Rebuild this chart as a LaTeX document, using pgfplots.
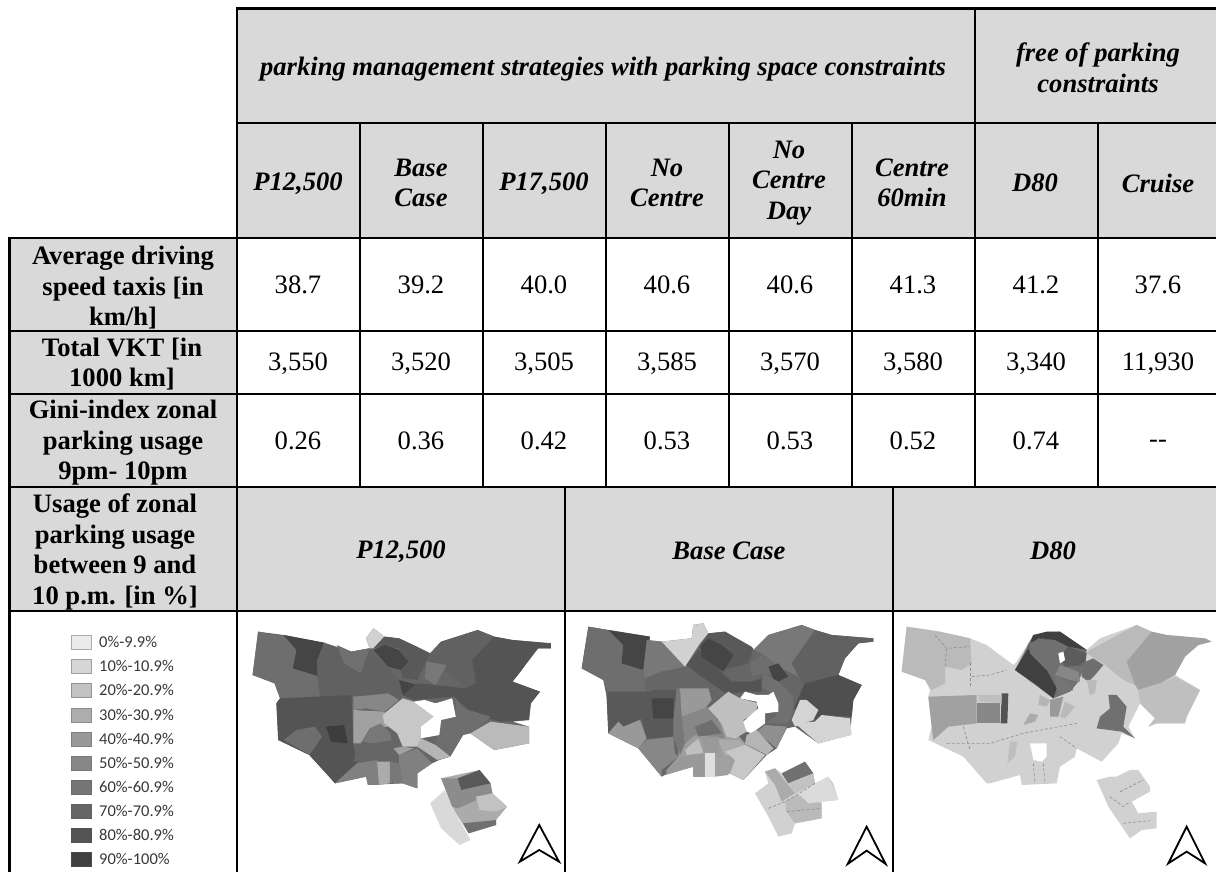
\documentclass[border=0pt]{standalone}
\usepackage{pgfplots}
\pgfplotsset{compat=1.18}
\usepackage{fontspec}
\setmainfont{Liberation Serif}
\newfontfamily\legf{Carlito}
\newcommand\Z[2]{\addplot[fill=black!#1,draw=none,forget plot] coordinates {#2} --cycle;}
\newcommand\Ln[1]{\addplot[black!45,line width=0.6pt,dash pattern=on 3pt off 2pt,forget plot] coordinates {#1};}
\newcommand\R[1]{\addplot[black,line width=2.1pt,forget plot,line cap=rect] coordinates {#1};}
\newcommand\Ar[1]{\addplot[black,line width=1.8pt,fill=white,forget plot,line join=miter] coordinates {#1} --cycle;}
\newcommand\LB[3]{\addplot[fill=black!#2,draw=black!#3,line width=1pt,forget plot] coordinates {(71,#1-7) (91,#1-7) (91,#1+7) (71,#1+7)} --cycle;}
\newcommand\T[3]{\node[align=center,inner sep=0pt,font=\fontsize{26.6}{30.5}\selectfont] at (axis cs:#1,#2) {#3};}
\newcommand\B[3]{\node[align=center,inner sep=0pt,font=\fontsize{26.6}{30.5}\selectfont\bfseries] at (axis cs:#1,#2) {#3};}
\newcommand\I[3]{\node[align=center,inner sep=0pt,font=\fontsize{26.6}{30.5}\selectfont\bfseries\itshape] at (axis cs:#1,#2) {#3};}
\newcommand\LT[2]{\node[anchor=west,inner sep=0pt,text=black!78,font=\legf\fontsize{16.5}{18}\selectfont] at (axis cs:99,#1) {#2};}
\pgfplotsset{mapax/.style={hide axis,scale only axis,y dir=reverse,anchor=north west,no markers,clip=false}}
\begin{document}
\begin{tikzpicture}[x=1pt,y=1pt]
\path[use as bounding box] (0,0) rectangle (1216,872);
% ---- map 1
\begin{axis}[mapax,at={(0pt,252pt)},width=570pt,height=252pt,xmin=0,xmax=1557,ymin=0,ymax=756]
\Z{60}{(705,35) (775,45) (885,68) (890,75) (960,95) (1010,85) (1000,55) (1020,25) (1050,50) (1090,55) (1135,78) (1175,100) (1205,65) (1305,30) (1350,50) (1400,60) (1505,70) (1505,85) (1470,85) (1445,110) (1425,150) (1400,185) (1475,215) (1450,250) (1445,300) (1400,305) (1445,320) (1445,370) (1350,390) (1285,340) (1265,345) (1230,410) (1200,420) (1180,430) (1140,460) (1140,505) (1100,490) (1005,495) (1000,470) (915,490) (900,470) (845,405) (760,360) (755,250) (765,235) (750,190) (690,165)}
\Z{57}{(705,35) (775,50) (810,90) (800,145) (865,165) (875,235) (765,235) (750,190) (690,165)}
\Z{73}{(775,45) (885,68) (865,125) (868,168) (800,145) (810,90)}
\Z{62}{(885,68) (960,95) (1010,85) (1020,100) (1090,180) (1100,240) (950,225) (875,235) (868,168) (865,125)}
\Z{56}{(920,75) (960,95) (1010,85) (985,160) (940,130)}
\Z{18}{(1000,55) (1020,25) (1050,50) (1020,85) (1010,85)}
\Z{65}{(1050,50) (1090,55) (1175,100) (1140,180) (1100,175) (1095,150) (1115,125) (1090,85) (1045,75) (1020,85)}
\Z{73}{(1020,90) (1050,75) (1090,90) (1115,125) (1095,150) (1060,140)}
\Z{73}{(1090,180) (1140,195) (1120,230) (1100,225)}
\Z{62}{(1175,100) (1205,65) (1305,30) (1350,50) (1290,120) (1300,190) (1270,205) (1215,150) (1165,125)}
\Z{53}{(1165,125) (1220,135) (1190,195) (1160,175)}
\Z{67}{(1350,50) (1400,60) (1505,70) (1505,85) (1470,85) (1425,150) (1400,185) (1475,215) (1450,250) (1445,300) (1365,305) (1290,280) (1240,230) (1130,240) (1100,225) (1140,190) (1190,195) (1270,205) (1300,190) (1290,120)}
\Z{57}{(1245,235) (1265,265) (1340,290) (1300,330) (1265,345) (1225,410) (1190,370) (1205,300) (1245,290)}
\Z{27}{(1285,340) (1340,305) (1445,320) (1445,370) (1350,390)}
\Z{67}{(755,250) (765,235) (960,225) (965,370) (975,430) (915,490) (845,405) (760,360)}
\Z{57}{(775,360) (810,330) (860,320) (880,350) (845,405)}
\Z{76}{(890,320) (940,315) (950,370) (905,365)}
\Z{47}{(965,230) (1020,225) (1060,220) (1090,240) (1050,275) (1000,265) (965,270)}
\Z{37}{(965,270) (1050,275) (1060,320) (1010,325) (985,370) (965,370)}
\Z{22}{(1045,285) (1100,235) (1130,245) (1185,290) (1150,320) (1150,355) (1140,380) (1100,380) (1085,340) (1050,310)}
\Z{53}{(1010,325) (1040,310) (1065,340) (1070,360) (1020,370) (990,365)}
\Z{60}{(985,370) (1025,370) (1070,365) (1075,420) (1030,420) (965,425)}
\Z{29}{(1140,380) (1150,355) (1190,375) (1230,410) (1195,420)}
\Z{50}{(1090,405) (1140,385) (1180,430) (1140,460) (1140,505) (1100,490) (1090,430)}
\Z{37}{(1075,385) (1100,380) (1130,385) (1090,405)}
\Z{50}{(915,490) (975,430) (1030,420) (1035,495) (1005,495) (1000,470)}
\Z{33}{(1030,425) (1065,425) (1065,490) (1035,495)}
\Z{53}{(1065,425) (1090,430) (1100,490) (1065,490)}
\Z{0}{(1130,245) (1160,240) (1190,250) (1235,235) (1245,290) (1205,300) (1200,345) (1150,355) (1150,320) (1185,290)}
% south lobe
\Z{33}{(1205,475) (1310,450) (1340,490) (1345,520) (1385,560) (1355,600) (1355,615) (1280,640) (1240,570)}
\Z{15}{(1175,550) (1215,510) (1240,570) (1285,660) (1255,675) (1205,625)}
\Z{45}{(1205,475) (1250,475) (1260,510) (1340,490) (1345,520) (1250,565) (1235,560)}
\Z{65}{(1250,475) (1310,450) (1340,490) (1260,510)}
\Z{24}{(1300,530) (1345,520) (1385,560) (1355,575) (1310,570)}
\Z{33}{(1250,565) (1300,550) (1310,575) (1355,575) (1350,595) (1270,605)}
\Z{56}{(1265,610) (1355,600) (1355,615) (1280,640)}
\Ar{(1473,615) (1527,725) (1473,690) (1420,725)}
\end{axis}
% ---- map 2
\begin{axis}[mapax,at={(565pt,252pt)},width=330pt,height=252pt,xmin=0,xmax=990,ymin=0,ymax=756]
\Z{60}{(70,20) (130,30) (255,50) (245,60) (290,65) (380,55) (385,15) (415,10) (430,40) (480,35) (560,80) (565,90) (610,45) (710,15) (750,30) (800,45) (925,55) (925,65) (880,70) (840,115) (820,165) (890,195) (865,240) (860,290) (855,345) (760,370) (690,320) (665,325) (635,385) (605,405) (535,480) (495,460) (420,470) (385,470) (385,440) (300,465) (290,470) (220,385) (130,340) (125,230) (115,180) (50,145)}
\Z{38}{(340,300) (480,300) (540,370) (600,405) (535,480) (495,460) (420,470) (385,470) (385,440) (300,465) (340,410)}
\Z{57}{(70,20) (130,30) (175,75) (170,130) (235,150) (245,180) (240,215) (130,215) (115,180) (50,145)}
\Z{73}{(130,30) (255,50) (245,125) (235,150) (170,130) (175,75)}
\Z{53}{(245,60) (290,65) (360,140) (290,155) (240,175) (235,150)}
\Z{18}{(290,65) (380,55) (385,15) (415,10) (430,40) (405,70) (360,140)}
\Z{67}{(400,90) (365,135) (410,170) (490,225) (530,215) (590,215) (590,175) (560,185) (500,185)}
\Z{65}{(430,40) (480,35) (565,85) (550,130) (470,150) (410,100) (410,70)}
\Z{73}{(405,80) (430,55) (470,75) (505,105) (475,155) (410,110)}
\Z{53}{(565,90) (610,45) (710,15) (750,30) (680,130) (700,170) (640,140) (590,100)}
\Z{57}{(555,130) (590,105) (630,130) (625,165) (590,160) (560,170)}
\Z{73}{(610,140) (640,130) (670,170) (630,190)}
\Z{62}{(750,30) (800,45) (925,55) (925,65) (880,70) (840,115) (820,165) (770,180) (715,190) (680,130)}
\Z{69}{(710,210) (720,190) (820,165) (890,195) (865,240) (860,290) (770,285) (750,300) (720,245) (685,270)}
\Z{60}{(240,175) (290,155) (360,145) (430,200) (240,210)}
\Z{65}{(130,215) (260,215) (265,295) (230,295) (175,320) (130,340) (125,230)}
\Z{65}{(260,210) (335,210) (325,350) (245,355) (230,300)}
\Z{73}{(260,235) (325,235) (325,295) (265,295)}
\Z{40}{(130,340) (160,305) (175,320) (225,300) (245,355) (220,385)}
\Z{47}{(220,385) (245,360) (325,350) (330,400) (340,410) (290,450) (290,470)}
\Z{53}{(335,205) (345,205) (360,370) (345,405) (325,350) (325,300)}
\Z{40}{(345,205) (430,205) (440,240) (400,290) (350,290)}
\Z{47}{(350,290) (430,260) (465,310) (480,355) (390,345) (360,370)}
\Z{57}{(390,320) (440,300) (470,340) (400,350)}
\Z{25}{(430,265) (490,215) (525,235) (580,250) (570,280) (535,300) (545,335) (510,355) (485,350) (470,310)}
\Z{56}{(595,160) (640,185) (685,230) (685,270) (670,310) (600,310) (630,290) (640,250) (620,220) (590,200)}
\Z{0}{(525,235) (540,215) (575,225) (610,225) (625,215) (640,250) (640,275) (600,280) (600,310) (560,340) (545,335) (535,305) (580,265) (575,245)}
\Z{44}{(600,315) (665,320) (635,385) (575,335)}
\Z{29}{(545,345) (575,330) (625,385) (605,405) (540,370)}
\Z{17}{(680,300) (705,240) (725,240) (760,270) (745,300) (690,320)}
\Z{17}{(690,310) (750,305) (770,285) (855,295) (860,345) (760,370)}
\Z{25}{(360,390) (400,355) (415,400) (365,405)}
\Z{40}{(410,350) (460,350) (460,395) (420,395)}
\Z{33}{(460,360) (520,360) (540,375) (480,410)}
\Z{22}{(480,395) (540,375) (600,405) (535,480) (495,460) (510,420)}
\Z{40}{(300,455) (340,410) (415,400) (420,470) (385,470) (385,440)}
\Z{13}{(420,400) (450,400) (450,470) (420,470)}
\Z{37}{(450,410) (495,420) (490,465) (450,470)}
% south lobe
\Z{18}{(600,455) (630,445) (650,460) (690,440) (720,425) (745,460) (750,490) (790,470) (805,490) (820,540) (770,545) (770,595) (690,610) (680,640) (640,650) (610,590) (570,520) (610,490)}
\Z{33}{(600,455) (630,445) (690,520) (650,545) (630,495)}
\Z{56}{(650,460) (720,425) (745,460) (670,490)}
\Z{24}{(670,490) (745,460) (750,490) (690,520)}
\Z{27}{(660,545) (695,525) (770,550) (770,595) (690,610) (665,575)}
\Z{14}{(700,520) (750,490) (790,470) (820,540) (730,550)}
\Ln{(610,565) (660,545) (695,525) (750,490)}
\Ln{(665,575) (770,565)}
\Ar{(905,620) (962,732) (905,692) (848,732)}
\end{axis}
% ---- map 3
\begin{axis}[mapax,at={(890pt,252pt)},width=326pt,height=252pt,xmin=0,xmax=978,ymin=0,ymax=756]
\Z{18}{(50,20) (150,35) (240,55) (290,75) (370,135) (380,125) (430,45) (470,35) (510,35) (590,90) (630,55) (740,15) (785,35) (830,45) (945,55) (965,65) (925,75) (885,110) (855,165) (930,210) (890,290) (885,310) (800,310) (775,320) (795,295) (750,250) (730,290) (715,320) (735,355) (695,340) (685,370) (635,425) (560,385) (555,410) (510,440) (500,490) (395,495) (390,465) (300,490) (290,490) (220,410) (115,360) (125,320) (115,230) (120,210) (105,180) (35,155)}
\Z{27}{(50,20) (150,35) (240,55) (245,130) (215,150) (165,140) (165,190) (125,210) (105,180) (35,155)}
\Z{27}{(600,90) (740,15) (785,35) (710,125) (735,195) (700,180) (640,130) (590,100)}
\Z{37}{(785,35) (830,45) (945,55) (965,65) (925,75) (885,110) (855,165) (810,190) (745,210) (735,195) (710,125)}
\Z{25}{(745,210) (810,190) (855,170) (930,210) (890,290) (885,310) (800,310) (775,320) (795,295) (750,250)}
\Z{56}{(430,45) (510,35) (590,90) (585,135) (565,185) (540,215) (490,235) (375,150)}
\Z{75}{(430,45) (470,35) (510,35) (590,90) (535,80) (495,60) (445,55) (415,75) (415,85)}
\Z{75}{(415,85) (430,110) (470,150) (500,205) (490,235) (440,195) (375,150)}
\Z{56}{(415,70) (460,55) (500,90) (510,130) (490,170) (470,150) (420,100)}
\Z{64}{(535,80) (590,100) (585,135) (525,140) (510,110)}
\Z{47}{(510,135) (565,155) (570,185) (540,180) (495,165)}
\Z{54}{(495,165) (540,190) (550,210) (510,220) (500,205)}
\Z{57}{(575,130) (610,115) (640,135) (615,165) (595,185) (575,170)}
\Z{0}{(505,100) (520,95) (525,120) (510,130)}
\Z{37}{(115,230) (260,225) (260,310) (175,320) (130,360) (125,320)}
\Z{47}{(260,250) (330,250) (330,310) (260,310)}
\Z{68}{(335,220) (355,220) (352,310) (332,310)}
\Z{25}{(265,225) (335,225) (335,250) (265,245)}
\Z{33}{(400,315) (420,280) (445,285) (435,305)}
\Z{40}{(480,240) (520,230) (505,290) (480,290)}
\Z{27}{(510,290) (525,245) (555,260) (525,295)}
\Z{56}{(655,225) (680,225) (710,260) (700,320) (735,355) (695,335) (620,325) (630,290) (660,265)}
\Z{29}{(450,225) (480,240) (470,260) (445,255)}
\Z{25}{(360,365) (382,365) (375,410) (352,430)}
\Z{27}{(590,180) (620,180) (615,220) (600,225)}
\Z{0}{(420,370) (470,370) (470,410) (455,425) (430,420)}
\Z{18}{(620,480) (660,470) (680,470) (720,450) (745,450) (780,500) (780,515) (725,545) (745,580) (800,575) (800,625) (755,630) (720,655) (655,560)}
\Ln{(135,45) (170,85) (240,80)}
\Ln{(170,85) (165,140)}
\Ln{(240,130) (240,200)}
\Ln{(245,170) (300,165) (350,150)}
\Ln{(170,370) (300,370) (400,340) (560,310)}
\Ln{(220,320) (240,390)}
\Ln{(510,350) (560,385)}
\Ln{(430,430) (435,490)}
\Ln{(460,430) (465,490)}
\Ln{(690,515) (760,480)}
\Ln{(700,610) (780,602)}
\Ln{(660,530) (700,560) (720,545)}
\Ar{(890,620) (945,730) (890,695) (835,730)}
\end{axis}
% ---- table
\begin{axis}[mapax,at={(0pt,872pt)},width=1216pt,height=872pt,xmin=0,xmax=1216,ymin=0,ymax=872]
\Z{15}{(237,8) (1216,8) (1216,238) (237,238)}
\Z{15}{(9,238) (237,238) (237,611) (9,611)}
\Z{15}{(237,487) (1216,487) (1216,611) (237,611)}
\R{(237,8.5) (1216,8.5)}
\R{(237,123) (1216,123)}
\R{(9.5,238) (1216,238)}
\R{(9.5,331) (1216,331)}
\R{(9.5,394) (1216,394)}
\R{(9.5,487) (1216,487)}
\R{(9.5,611) (1216,611)}
\R{(9.5,238) (9.5,872)}
\R{(237,8.5) (237,872)}
\R{(360,123) (360,487)}
\R{(483,123) (483,487)}
\R{(606,123) (606,487)}
\R{(729,123) (729,487)}
\R{(852,123) (852,487)}
\R{(975,8.5) (975,487)}
\R{(1098,123) (1098,487)}
\R{(565,487) (565,872)}
\R{(893,487) (893,872)}
% legend
\LB{642}{8}{33}
\LB{666}{16}{38}
\LB{690}{24}{42}
\LB{715}{32}{45}
\LB{739}{40}{50}
\LB{763}{47}{52}
\LB{787}{54}{58}
\LB{811}{60}{62}
\LB{835}{67}{68}
\LB{859}{75}{70}
\LT{642}{0\%-9.9\%}
\LT{666}{10\%-10.9\%}
\LT{690}{20\%-20.9\%}
\LT{715}{30\%-30.9\%}
\LT{739}{40\%-40.9\%}
\LT{763}{50\%-50.9\%}
\LT{787}{60\%-60.9\%}
\LT{811}{70\%-70.9\%}
\LT{835}{80\%-80.9\%}
\LT{859}{90\%-100\%}
% text
\I{603}{69}{parking management strategies with parking space constraints}
\I{1098}{68}{free of parking\\constraints}
\I{298}{184}{P12,500}
\I{421}{183}{Base\\Case}
\I{544}{184}{P17,500}
\I{667}{183}{No\\Centre}
\I{789}{183}{No\\Centre\\Day}
\I{912}{183}{Centre\\60min}
\I{1035}{183}{D80}
\I{1158}{183}{Cruise}
\B{123}{288}{Average driving\\speed taxis [in\\km/h]}
\B{122}{364}{Total VKT [in\\1000 km]}
\B{123}{443}{Gini-index zonal\\parking usage\\9pm- 10pm}
\B{115}{552}{Usage of zonal\\parking usage\\between 9 and\\10 p.m. [in \%]}
\T{298}{285}{38.7}\T{421}{285}{39.2}\T{544}{285}{40.0}\T{667}{285}{40.6}\T{790}{285}{40.6}\T{913}{285}{41.3}\T{1036}{285}{41.2}\T{1158}{285}{37.6}
\T{298}{364}{3,550}\T{421}{364}{3,520}\T{544}{364}{3,505}\T{667}{364}{3,585}\T{790}{364}{3,570}\T{913}{364}{3,580}\T{1036}{364}{3,340}\T{1158}{364}{11,930}
\T{298}{441}{0.26}\T{421}{441}{0.36}\T{544}{441}{0.42}\T{667}{441}{0.53}\T{790}{441}{0.53}\T{913}{441}{0.52}\T{1036}{441}{0.74}\T{1158}{444}{{-}{-}}
\I{401}{552}{P12,500}
\I{729}{551}{Base Case}
\I{1053}{551}{D80}
\end{axis}
\end{tikzpicture}
\end{document}
